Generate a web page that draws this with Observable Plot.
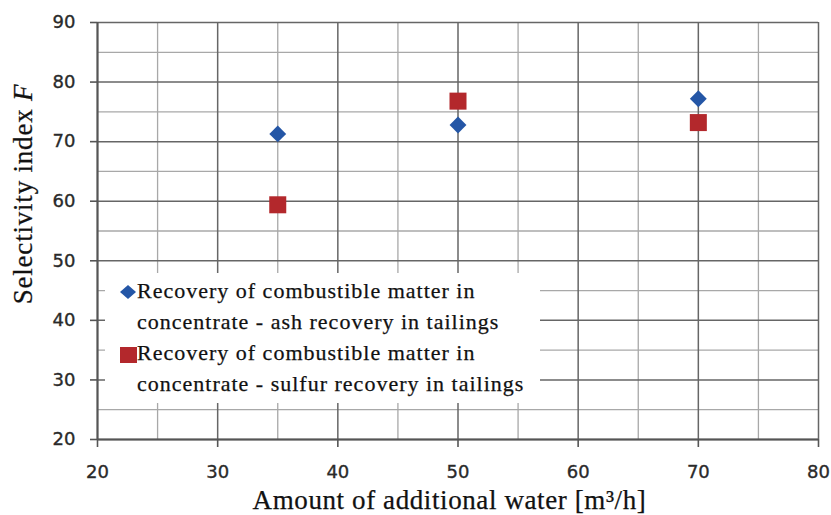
<!DOCTYPE html>
<html>
<head>
<meta charset="utf-8">
<script src="https://cdn.jsdelivr.net/npm/d3@7"></script>
<script src="https://cdn.jsdelivr.net/npm/@observablehq/plot@0.6"></script>
<style>
  html, body { margin: 0; padding: 0; background: #fff; }
  #wrap { position: relative; width: 831px; height: 515px; overflow: hidden; }
  #wrap svg text { stroke: #2a2a2a; stroke-width: 0.35px; }
  #legend {
    position: absolute; left: 105px; top: 273px; width: 435px; height: 130px;
    background: #fff; font-family: "Liberation Serif", "Times New Roman", serif;
    font-size: 22px; line-height: 1; color: #111; letter-spacing: 1px;
    -webkit-text-stroke: 0.25px #111;
  }
  .lg-row { position: absolute; left: 0; white-space: nowrap; }
  .xlabel { position: absolute; left: 0; width: 899px; top: 487px; text-align: center; line-height: 1;
    font-family: "Liberation Serif", serif; font-size: 27px; letter-spacing: 0.6px; color: #111;
    -webkit-text-stroke: 0.25px #111; white-space: nowrap; }
  .ylabel { position: absolute; left: 23px; top: 194px; transform: translate(-50%, -50%) rotate(-90deg);
    line-height: 1; white-space: nowrap; font-family: "Liberation Serif", serif; font-size: 27px;
    letter-spacing: 0.8px; color: #111; -webkit-text-stroke: 0.25px #111; }
</style>
</head>
<body>
<div id="wrap"></div>
<script>
// Data
const waterAmount = [35, 50, 70];
const ashSelectivity = [71.3, 72.8, 77.2];
const sulfurSelectivity = [59.4, 76.8, 73.2];
const seriesNames = [
  ["Recovery of combustible matter in", "concentrate - ash recovery in tailings"],
  ["Recovery of combustible matter in", "concentrate - sulfur recovery in tailings"]
];
const seriesColors = ["#2456a6", "#b3282c"];
const xMajorTicks = [20, 30, 40, 50, 60, 70, 80];
const xMinorTicks = [25, 35, 45, 55, 65, 75];
const yMajorTicks = [20, 30, 40, 50, 60, 70, 80, 90];
const yMinorTicks = [25, 35, 45, 55, 65, 75, 85];
const xTitle = "Amount of additional water [m³/h]";
const yTitle = "Selectivity index ";
const yTitleVar = "F";

const ash = waterAmount.map((x, i) => ({x, y: ashSelectivity[i]}));
const sulfur = waterAmount.map((x, i) => ({x, y: sulfurSelectivity[i]}));

const chart = Plot.plot({
  width: 831, height: 515,
  marginLeft: 97, marginRight: 13, marginTop: 22, marginBottom: 76,
  x: {domain: [20, 80]},
  y: {domain: [20, 90]},
  style: {fontFamily: "DejaVu Sans, sans-serif", fontSize: "18px", color: "#2a2a2a", background: "#fff"},
  marks: [
    Plot.ruleX(xMinorTicks, {stroke: "#a8a8a8", strokeWidth: 1.3}),
    Plot.ruleY(yMinorTicks, {stroke: "#a8a8a8", strokeWidth: 1.3}),
    Plot.ruleX(xMajorTicks, {stroke: "#666", strokeWidth: 1.5}),
    Plot.ruleY(yMajorTicks, {stroke: "#666", strokeWidth: 1.5}),
    Plot.ruleX([20], {stroke: "#555", strokeWidth: 2}),
    Plot.ruleY([20], {stroke: "#555", strokeWidth: 2}),
    Plot.axisX({ticks: xMajorTicks, tickSize: 8, tickPadding: 18, stroke: "#555", strokeWidth: 1.6, label: null, tickFormat: d => d}),
    Plot.axisY({ticks: yMajorTicks, tickSize: 7, tickPadding: 15, stroke: "#555", strokeWidth: 1.6, label: null, tickFormat: d => d}),
    Plot.dot(sulfur, {x: "x", y: "y", symbol: "square", r: 9.6, fill: seriesColors[1]}),
    Plot.dot(ash, {x: "x", y: "y", symbol: "diamond2", r: 7.6, fill: seriesColors[0]})
  ]
});

const wrap = document.getElementById("wrap");
wrap.appendChild(chart);

// Legend
const legend = document.createElement("div");
legend.id = "legend";
const rowTops = [7, 38, 69, 100];
const markerSvg = [
  `<svg width="16" height="14" style="position:absolute;left:15px;top:12px"><path d="M8 0 L16 7 L8 14 L0 7 Z" fill="${seriesColors[0]}"/></svg>`,
  `<svg width="17" height="16" style="position:absolute;left:15px;top:74px"><rect x="0" y="0" width="17" height="16" fill="${seriesColors[1]}"/></svg>`
];
let html = markerSvg.join("");
seriesNames.forEach((lines, i) => {
  lines.forEach((t, j) => {
    html += `<div class="lg-row" style="left:32px;top:${rowTops[i * 2 + j]}px">${t}</div>`;
  });
});
legend.innerHTML = html;
wrap.appendChild(legend);

// Axis titles
const xl = document.createElement("div");
xl.className = "xlabel";
xl.textContent = xTitle;
wrap.appendChild(xl);
const yl = document.createElement("div");
yl.className = "ylabel";
yl.innerHTML = yTitle + "<i>" + yTitleVar + "</i>";
wrap.appendChild(yl);
</script>
</body>
</html>
